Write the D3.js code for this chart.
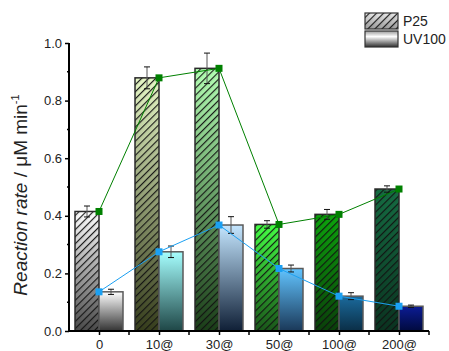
<!DOCTYPE html>
<html>
<head>
<meta charset="utf-8">
<script src="https://cdn.jsdelivr.net/npm/d3@7/dist/d3.min.js"></script>
<style>
  html, body { margin: 0; padding: 0; background: #fff; }
  svg { display: block; font-family: Arial, "Liberation Sans", sans-serif; }
</style>
</head>
<body>
<svg id="chart" width="449" height="351"></svg>
<script>
// Catalyst loading categories and measured rates
const categories = ["0", "10@", "30@", "50@", "100@", "200@"];
const p25Rate   = [0.415, 0.879, 0.912, 0.370, 0.405, 0.493];
const p25Err    = [0.019, 0.038, 0.053, 0.013, 0.017, 0.011];
const uv100Rate = [0.136, 0.275, 0.368, 0.217, 0.121, 0.086];
const uv100Err  = [0.009, 0.020, 0.029, 0.012, 0.012, 0.004];
const yTicks    = [0.0, 0.2, 0.4, 0.6, 0.8, 1.0];
const seriesNames = ["P25", "UV100"];

// Bar gradient colours (top, bottom)
const p25Colors = [
  ["#ffffff", "#4a4a4a"],
  ["#e6f7c6", "#363d1c"],
  ["#b4ffb4", "#1a3d18"],
  ["#44ff44", "#1a561a"],
  ["#0ca40c", "#0a3f0a"],
  ["#156c42", "#0a3320"]
];
const uv100Colors = [
  ["#ffffff", "#333333"],
  ["#a6ffff", "#1e4646"],
  ["#c4e6ff", "#0f1f36"],
  ["#62c4ff", "#1a3858"],
  ["#1b6a9c", "#0a2e46"],
  ["#0c1c94", "#000a3e"]
];
const p25Line = "#008000";
const uvLine = "#1ba0f2";

const svg = d3.select("#chart");
const defs = svg.append("defs");

const x = d3.scaleLinear().domain([-0.5, 5.5]).range([69, 429]);
const y = d3.scaleLinear().domain([0, 1]).range([331, 43]);
const halfW = 0.4; // bar width in category units

// hatch pattern
const hatch = defs.append("pattern")
  .attr("id", "hatch")
  .attr("patternUnits", "userSpaceOnUse")
  .attr("width", 5).attr("height", 5)
  .attr("patternTransform", "rotate(45)");
hatch.append("line")
  .attr("x1", 0.6).attr("y1", 0).attr("x2", 0.6).attr("y2", 5)
  .attr("stroke", "#111").attr("stroke-width", 1.1);

function addGrad(id, stops) {
  const g = defs.append("linearGradient").attr("id", id)
    .attr("x1", 0).attr("y1", 0).attr("x2", 0).attr("y2", 1);
  stops.forEach(([o, c]) => g.append("stop").attr("offset", o).attr("stop-color", c));
}
p25Colors.forEach((c, i) => addGrad("gp" + i, [[0, c[0]], [1, c[1]]]));
uv100Colors.forEach((c, i) => addGrad("gu" + i, [[0, c[0]], [1, c[1]]]));
addGrad("legP", [[0, "#e8e8e8"], [1, "#9a9a9a"]]);
addGrad("legU", [[0, "#9a9a9a"], [0.35, "#ffffff"], [1, "#2e2e2e"]]);

// bars
const gBars = svg.append("g");
categories.forEach((c, i) => {
  const xl = x(i - halfW), xr = x(i);
  gBars.append("rect")
    .attr("x", xl).attr("y", y(p25Rate[i]))
    .attr("width", xr - xl).attr("height", y(0) - y(p25Rate[i]))
    .attr("fill", `url(#gp${i})`);
  gBars.append("rect")
    .attr("x", xl).attr("y", y(p25Rate[i]))
    .attr("width", xr - xl).attr("height", y(0) - y(p25Rate[i]))
    .attr("fill", "url(#hatch)")
    .attr("stroke", "#2a2a2a").attr("stroke-width", 1.5);

  const ul = x(i), ur = x(i + halfW);
  gBars.append("rect")
    .attr("x", ul).attr("y", y(uv100Rate[i]))
    .attr("width", ur - ul).attr("height", y(0) - y(uv100Rate[i]))
    .attr("fill", `url(#gu${i})`)
    .attr("stroke", "#5a5a5a").attr("stroke-width", 1.5);
});

// error bars
function errBar(cx, v, e) {
  const g = svg.append("g");
  g.append("line").attr("x1", cx).attr("x2", cx)
    .attr("y1", y(v + e)).attr("y2", y(v - e))
    .attr("stroke", "#555").attr("stroke-width", 1);
  [v + e, v - e].forEach(t => g.append("line")
    .attr("x1", cx - 3).attr("x2", cx + 3)
    .attr("y1", y(t)).attr("y2", y(t))
    .attr("stroke", "#111").attr("stroke-width", 1));
}
categories.forEach((c, i) => {
  errBar(x(i - halfW / 2), p25Rate[i], p25Err[i]);
  errBar(x(i + halfW / 2), uv100Rate[i], uv100Err[i]);
});

// axes
const yAxis = d3.axisLeft(y).tickValues(yTicks).tickFormat(d3.format(".1f"))
  .tickSize(4).tickPadding(3);
const gy = svg.append("g").attr("transform", `translate(${x(-0.5)},0)`).call(yAxis);
gy.select(".domain").attr("d", `M0,${y(1)}V${y(0) + 1}`).attr("stroke", "#000").attr("stroke-width", 2);
gy.selectAll(".tick line").attr("stroke-width", 1.5);
gy.selectAll("text").attr("font-size", 13).attr("fill", "#222")
  .attr("font-family", "Arial, 'Liberation Sans', sans-serif");
// minor y ticks
const minorY = d3.range(0.1, 1, 0.2);
svg.append("g").selectAll("line").data(minorY).join("line")
  .attr("x1", x(-0.5) - 2).attr("x2", x(-0.5))
  .attr("y1", d => y(d)).attr("y2", d => y(d))
  .attr("stroke", "#000").attr("stroke-width", 1.5);

const xAxis = d3.axisBottom(x).tickValues(d3.range(0, 6))
  .tickFormat(i => categories[i]).tickSize(4).tickPadding(5);
const gx = svg.append("g").attr("transform", `translate(0,${y(0)})`).call(xAxis);
gx.select(".domain").attr("d", `M${x(-0.5) - 1},0H${x(5.5)}`).attr("stroke", "#000").attr("stroke-width", 2);
gx.selectAll(".tick line").attr("stroke-width", 1.5);
gx.selectAll("text").attr("font-size", 13).attr("fill", "#222")
  .attr("font-family", "Arial, 'Liberation Sans', sans-serif");
// minor x ticks at category boundaries
svg.append("g").selectAll("line").data(d3.range(0.5, 5.6, 1)).join("line")
  .attr("x1", d => x(d)).attr("x2", d => x(d))
  .attr("y1", y(0)).attr("y2", y(0) + 4)
  .attr("stroke", "#000").attr("stroke-width", 1.5);

// connecting lines with square markers
function series(vals, color) {
  const line = d3.line().x((d, i) => x(i)).y(d => y(d));
  svg.append("path").datum(vals).attr("d", line)
    .attr("fill", "none").attr("stroke", color).attr("stroke-width", 1);
  svg.append("g").selectAll("rect").data(vals).join("rect")
    .attr("x", (d, i) => x(i) - 3.5).attr("y", d => y(d) - 3.5)
    .attr("width", 7).attr("height", 7).attr("fill", color);
}
series(p25Rate, p25Line);
series(uv100Rate, uvLine);

// y-axis title
const title = svg.append("text")
  .attr("transform", `translate(27,195) rotate(-90)`)
  .attr("text-anchor", "middle").attr("font-size", 19).attr("fill", "#222");
title.append("tspan").attr("font-style", "italic").text("Reaction rate");
title.append("tspan").text(" / \u03bcM min");
title.append("tspan").attr("font-size", 11).attr("dy", -8).text("-1");

// legend
const leg = svg.append("g");
seriesNames.forEach((name, k) => {
  const ly = 13 + k * 18;
  leg.append("rect").attr("x", 365).attr("y", ly).attr("width", 33).attr("height", 16)
    .attr("fill", k === 0 ? "url(#legP)" : "url(#legU)");
  if (k === 0) leg.append("rect").attr("x", 365).attr("y", ly).attr("width", 33).attr("height", 16)
    .attr("fill", "url(#hatch)");
  leg.append("rect").attr("x", 365).attr("y", ly).attr("width", 33).attr("height", 16)
    .attr("fill", "none").attr("stroke", "#333").attr("stroke-width", 1.2);
  leg.append("text").attr("x", 403).attr("y", ly + 13).attr("font-size", 14)
    .attr("fill", "#222").text(name);
});
</script>
</body>
</html>
